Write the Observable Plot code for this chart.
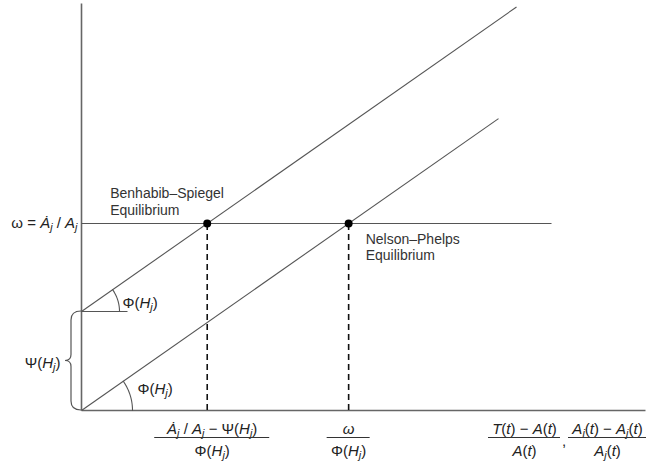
<!DOCTYPE html>
<html><head><meta charset="utf-8">
<script src="https://cdn.jsdelivr.net/npm/d3@7"></script>
<script src="https://cdn.jsdelivr.net/npm/@observablehq/plot@0.6"></script>
<style>body{margin:0;background:#fff}</style>
</head><body><div id="chart"></div>
<script>
// ---- model values (abstract units) ----
const psi = 0.99;          // Ψ(H_j): intercept of the upper line
const phi = 0.70;          // Φ(H_j): common slope
const omega = 1.87;        // ω = Ȧ_j / A_j
const xAxisEnd = 5.64;
const yAxisEnd = 4.07;
const upperLineEnd = 4.35;
const lowerLineEnd = 4.17;
const omegaLineEnd = 4.70;

const equilibriumNames = ["Benhabib–Spiegel\nEquilibrium", "Nelson–Phelps\nEquilibrium"];
const equilibriumX = [(omega - psi) / phi, omega / phi];

const tickNumerators = ["*Ȧ*_j / *A*_j − Ψ(*H*_j)", "*ω*", "*T*(*t*) − *A*(*t*)", "*A*_i(*t*) − *A*_j(*t*)"];
const tickDenominators = ["Φ(*H*_j)", "Φ(*H*_j)", "*A*(*t*)", "*A*_j(*t*)"];
const omegaLabel = "ω = *Ȧ*_j / *A*_j";
const psiLabel = "Ψ(*H*_j)";
const phiLabel = "Φ(*H*_j)";

// ---- derived tables ----
const tickX = [equilibriumX[0] + 0.05, equilibriumX[1], xAxisEnd - 1.21, xAxisEnd - 0.38];
const barHalf = [0.575, 0.215, 0.36, 0.39];
const ticks = tickNumerators.map((n, i) => ({x: tickX[i], num: n, den: tickDenominators[i], h: barHalf[i]}));
const eq = equilibriumNames.map((n, i) => ({name: n, x: equilibriumX[i], y: omega}));

const lines = [
  {x1: 0, y1: psi, x2: upperLineEnd, y2: psi + phi * upperLineEnd},
  {x1: 0, y1: 0, x2: lowerLineEnd, y2: phi * lowerLineEnd},
  {x1: 0, y1: omega, x2: omegaLineEnd, y2: omega},
  {x1: 0, y1: psi, x2: 0.46, y2: psi}
];
const axes = [
  {x1: 0, y1: 0, x2: xAxisEnd, y2: 0},
  {x1: 0, y1: 0, x2: 0, y2: yAxisEnd}
];
function arc(cy, r) {
  const a = Math.atan(phi);
  return d3.range(0, 41).map(k => {
    const t = a * k / 40;
    return {x: r * Math.cos(t), y: cy + r * Math.sin(t)};
  });
}

const font = "'Liberation Sans', Arial, Helvetica, sans-serif";

function brace(index, scales) {
  const x0 = scales.x(0), yt = scales.y(psi), yb = scales.y(0), ym = (yt + yb) / 2;
  const xb = x0 - 10, xt = x0 - 16;
  const p = d3.path();
  p.moveTo(x0, yt);
  p.quadraticCurveTo(xb, yt, xb, yt + 9);
  p.lineTo(xb, ym - 6);
  p.quadraticCurveTo(xb, ym, xt, ym);
  p.quadraticCurveTo(xb, ym, xb, ym + 6);
  p.lineTo(xb, yb - 9);
  p.quadraticCurveTo(xb, yb, x0, yb);
  const el = document.createElementNS("http://www.w3.org/2000/svg", "path");
  el.setAttribute("d", p.toString());
  el.setAttribute("fill", "none");
  el.setAttribute("stroke", "#555");
  el.setAttribute("stroke-width", "1.2");
  return el;
}

const chart = Plot.plot({
  width: 648,
  height: 461,
  marginLeft: 81,
  marginRight: 3,
  marginTop: 5,
  marginBottom: 51,
  x: {domain: [0, 5.64], axis: null},
  y: {domain: [0, 4.05], axis: null},
  style: {fontFamily: font, fontSize: "15px", background: "#fff", color: "#222"},
  marks: [
    Plot.link(axes, {x1: "x1", y1: "y1", x2: "x2", y2: "y2", stroke: "#666", strokeWidth: 1.6}),
    Plot.link(lines, {x1: "x1", y1: "y1", x2: "x2", y2: "y2", stroke: "#555", strokeWidth: 1.1}),
    Plot.line(arc(psi, 0.38), {x: "x", y: "y", stroke: "#555", strokeWidth: 1.1}),
    Plot.line(arc(0, 0.51), {x: "x", y: "y", stroke: "#555", strokeWidth: 1.1}),
    brace,
    Plot.ruleX(eq, {x: "x", y1: 0, y2: "y", stroke: "#111", strokeWidth: 1.6, strokeDasharray: "6,4"}),
    Plot.dot(eq, {x: "x", y: "y", r: 4, fill: "#000", stroke: "none"}),
    Plot.text(eq.slice(0, 1), {x: "x", y: "y", text: "name", dx: -97, dy: -9, fontSize: 14, textAnchor: "start", lineAnchor: "bottom", lineHeight: 1.15, fill: "#333"}),
    Plot.text(eq.slice(1), {x: "x", y: "y", text: "name", dx: 17, dy: 9, fontSize: 14, textAnchor: "start", lineAnchor: "top", lineHeight: 1.15, fill: "#333"}),
    Plot.text([omegaLabel], {x: 0, y: omega, text: d => d, dx: -4, textAnchor: "end", fill: "#222"}),
    Plot.text([psiLabel], {x: 0, y: psi / 2, text: d => d, dx: -21, dy: 2, textAnchor: "end", fill: "#222"}),
    Plot.text([phiLabel], {x: 0.41, y: psi, text: d => d, dy: -8, textAnchor: "start", fill: "#222"}),
    Plot.text([phiLabel], {x: 0.56, y: 0, text: d => d, dy: -21, textAnchor: "start", fill: "#222"}),
    Plot.text(ticks, {x: "x", y: 0, text: "num", dy: 19, fill: "#222"}),
    Plot.ruleY(ticks, {x1: d => d.x - d.h, x2: d => d.x + d.h, y: 0, dy: 27, stroke: "#333", strokeWidth: 1.1}),
    Plot.text(ticks, {x: "x", y: 0, text: "den", dy: 41, fill: "#222"}),
    Plot.text([","], {x: xAxisEnd - 0.815, y: 0, text: d => d, dy: 31, fill: "#222"})
  ]
});

// convert the small markup (*italic*, _sub) into tspans
const NS = "http://www.w3.org/2000/svg";
chart.querySelectorAll("text").forEach(t => {
  const targets = t.querySelector("tspan") ? [...t.querySelectorAll("tspan")] : [t];
  targets.forEach(el => {
    const s = el.textContent;
    if (!/[*_]/.test(s)) return;
    el.textContent = "";
    let italic = false, buf = "", pendingUp = false;
    const add = (txt, opts = {}) => {
      const ts = document.createElementNS(NS, "tspan");
      ts.textContent = txt;
      if (opts.italic) ts.setAttribute("font-style", "italic");
      if (opts.sub) { ts.setAttribute("font-size", "72%"); ts.setAttribute("dy", "3"); }
      else if (pendingUp) { ts.setAttribute("dy", "-3"); pendingUp = false; }
      el.appendChild(ts);
      if (opts.sub) pendingUp = true;
    };
    const flush = () => { if (buf) { add(buf, {italic}); buf = ""; } };
    for (let i = 0; i < s.length; i++) {
      const c = s[i];
      if (c === "*") { flush(); italic = !italic; continue; }
      if (c === "_") { flush(); add(s[i + 1], {italic: true, sub: true}); i++; continue; }
      buf += c;
    }
    flush();
  });
});

document.getElementById("chart").appendChild(chart);
</script>
</body></html>
